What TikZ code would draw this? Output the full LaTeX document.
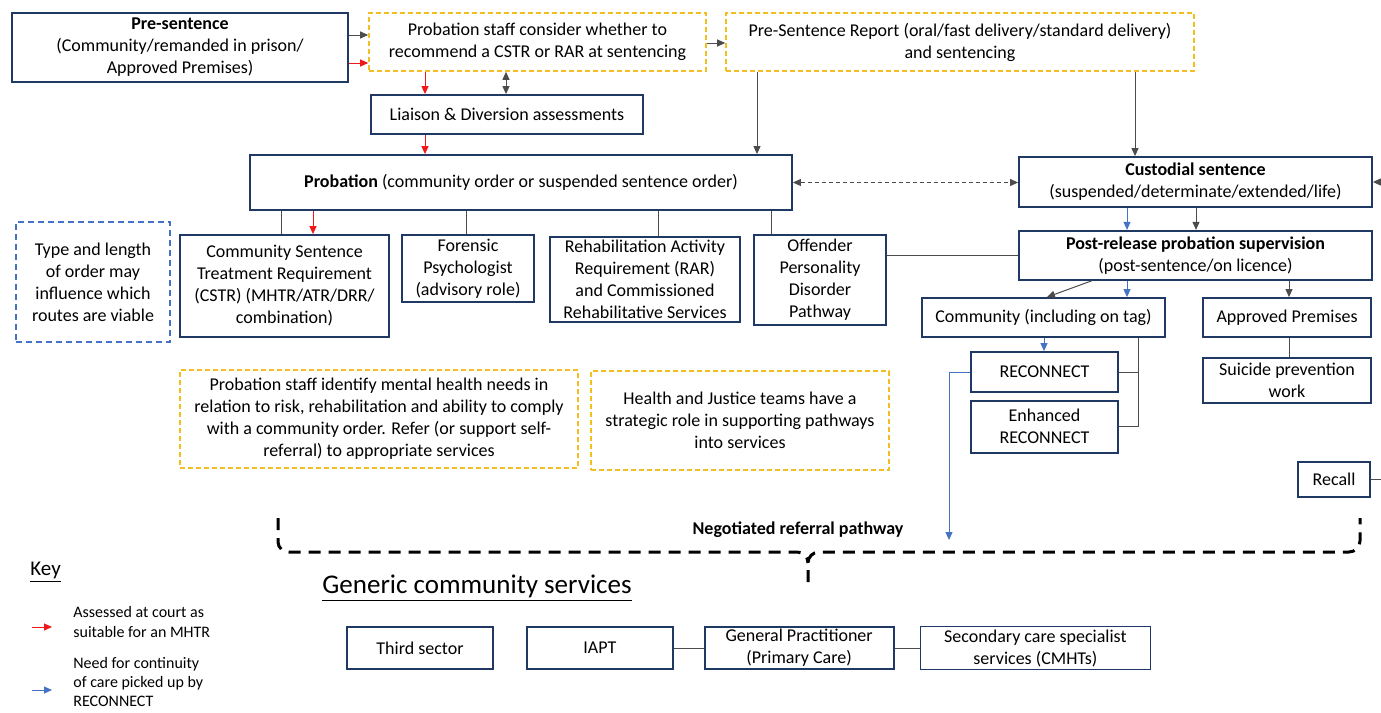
\documentclass[tikz,border=0pt]{standalone}
\usepackage{fontspec}
\setmainfont{Carlito}
\usetikzlibrary{arrows.meta, positioning}
\definecolor{navy}{HTML}{1F3864}
\definecolor{gold}{HTML}{F2BE22}
\definecolor{steel}{HTML}{4472C4}
\definecolor{alert}{HTML}{F01818}

\begin{document}
\begin{tikzpicture}[
      x=0.5pt, y=-0.5pt,
      box/.style={rectangle, draw=navy, line width=0.9pt, align=center,
        inner sep=0.5pt, font=\fontsize{9}{11}\selectfont},
      note/.style={rectangle, draw=gold, dashed, dash pattern=on 2.5pt off 1.5pt,
        line width=0.8pt, align=center, inner sep=0.5pt,
        font=\fontsize{9}{11}\selectfont},
      ln/.style={draw=black!70, line width=0.5pt},
      arr/.style={ln, -{Triangle[length=4pt, width=3.5pt]}},
      dbl/.style={ln, {Triangle[length=4pt, width=3.5pt]}-{Triangle[length=4pt, width=3.5pt]}},
      redarr/.style={arr, draw=alert, -{Triangle[length=4pt, width=3.5pt, fill=alert]}},
      bluearr/.style={arr, draw=steel, -{Triangle[length=4pt, width=3.5pt, fill=steel]}},
      bracket/.style={draw=black, line width=1.5pt, dash pattern=on 6pt off 4pt}
    ]
      \useasboundingbox (0,0) rectangle (1381,712);

      \node[box, minimum width=168pt, minimum height=34.5pt] (pre) at (180,47.5)
        {\textbf{Pre-sentence}\\(Community/remanded in prison/\\Approved Premises)};
      \node[note, minimum width=168.5pt, minimum height=29pt] (consider) at (537.5,42)
        {Probation staff consider whether to\\recommend a CSTR or RAR at sentencing};
      \node[note, minimum width=234pt, minimum height=29pt] (psr) at (960,42)
        {Pre-Sentence Report (oral/fast delivery/standard delivery)\\and sentencing};
      \node[box, minimum width=136pt, minimum height=19.5pt] (liaison) at (507,114.5)
        {Liaison \& Diversion assessments};
      \node[box, minimum width=271pt, minimum height=27.5pt] (prob) at (521,182.5)
        {\textbf{Probation} (community order or suspended sentence order)};
      \node[box, minimum width=176.5pt, minimum height=25pt] (cust) at (1195.5,182)
        {\textbf{Custodial sentence}\\(suspended/determinate/extended/life)};
      \node[box, minimum width=176.5pt, minimum height=24.5pt, below=11pt of cust] (post)
        {\textbf{Post-release probation supervision}\\(post-sentence/on licence)};

      \node[note, draw=steel, dash pattern=on 3pt off 2pt, minimum width=77pt,
        minimum height=60pt] (viable) at (93,282)
        {Type and length\\of order may\\influence which\\routes are viable};
      \node[box, minimum width=104.5pt, minimum height=51pt] (cstr) at (284.5,286)
        {Community Sentence\\Treatment Requirement\\(CSTR) (MHTR/ATR/DRR/\\combination)};
      \node[box, minimum width=66pt, minimum height=33.5pt] (forensic) at (468,268.5)
        {Forensic\\Psychologist\\(advisory role)};
      \node[box, minimum width=95pt, minimum height=42.5pt] (rar) at (645,279.5)
        {Rehabilitation Activity\\Requirement (RAR)\\and Commissioned\\Rehabilitative Services};
      \node[box, minimum width=66pt, minimum height=45pt] (opd) at (820,280)
        {Offender\\Personality\\Disorder\\Pathway};

      \node[box, minimum width=121.5pt, minimum height=19.5pt] (comm) at (1043.5,317.5)
        {Community (including on tag)};
      \node[box, minimum width=84pt, minimum height=19.5pt] (approved) at (1287,317.5)
        {Approved Premises};
      \node[box, minimum width=84pt, minimum height=22.5pt, below=9.5pt of approved] (suicide)
        {Suicide prevention\\work};
      \node[box, minimum width=73.5pt, minimum height=20pt] (reconn) at (1044.5,372)
        {RECONNECT};
      \node[box, minimum width=73.5pt, minimum height=26pt, below=3.5pt of reconn] (enhanced)
        {Enhanced\\RECONNECT};

      \node[note, minimum width=199pt, minimum height=49pt] (identify) at (379,419)
        {Probation staff identify mental health needs in\\relation to risk, rehabilitation and ability to comply\\with a community order. Refer (or support self-\\referral) to appropriate services};
      \node[note, minimum width=149pt, minimum height=49.5pt] (hj) at (740,420.5)
        {Health and Justice teams have a\\strategic role in supporting pathways\\into services};
      \node[box, minimum width=36pt, minimum height=17.5pt] (recall) at (1334,479.5) {Recall};

      \node[font=\fontsize{9}{11}\selectfont\bfseries] (nrp) at (798,530) {Negotiated referral pathway};
      \node[font=\fontsize{13.5}{15}\selectfont, anchor=west, inner sep=0pt] (generic) at (322,588)
        {\underline{Generic community services}};
      \node[box, minimum width=73pt, minimum height=21pt] (third) at (420,648) {Third sector};
      \node[box, minimum width=73pt, minimum height=21pt, right=16pt of third] (iapt) {IAPT};
      \node[box, minimum width=94.5pt, minimum height=21pt, right=15pt of iapt] (gp)
        {General Practitioner\\(Primary Care)};
      \node[box, minimum width=115pt, minimum height=21.5pt, right=12.5pt of gp] (secondary)
        {Secondary care specialist\\services (CMHTs)};

      \node[font=\fontsize{10.5}{12}\selectfont, anchor=west, inner sep=0pt] (key) at (30,572) {\underline{Key}};
      \node[font=\fontsize{8}{10}\selectfont, anchor=west, align=left, inner sep=0pt] (keyred) at (73,622)
        {Assessed at court as\\suitable for an MHTR};
      \node[font=\fontsize{8}{9.5}\selectfont, anchor=west, align=left, inner sep=0pt] (keyblue) at (73,682)
        {Need for continuity\\of care picked up by\\RECONNECT};

      \coordinate (npw) at (949,540);
      \coordinate (rback) at (1392,0);

      \draw[arr] (pre.east |- 0,35) -- (consider.west |- 0,35);
      \draw[redarr] (pre.east |- 0,63) -- (consider.west |- 0,63);
      \draw[arr] (consider.east |- 0,43) -- (psr.west |- 0,43);
      \draw[redarr] (consider.south -| 425,0) -- (liaison.north -| 425,0);
      \draw[dbl] (consider.south -| 506,0) -- (liaison.north -| 506,0);
      \draw[redarr] (liaison.south -| 425,0) -- (prob.north -| 425,0);
      \draw[arr] (psr.south -| 757,0) -- (prob.north -| 757,0);
      \draw[arr] (psr.south -| 1135,0) -- (cust.north -| 1135,0);
      \draw[dbl, dash pattern=on 2pt off 1.5pt] (prob.east) -- (prob.east -| cust.west);
      \draw[arr] (recall.east) -- (recall.east -| rback) -- (cust.east -| rback) -- (cust.east);

      \draw[bluearr] (cust.south -| 1127,0) -- (post.north -| 1127,0);
      \draw[arr] (cust.south -| 1196,0) -- (post.north -| 1196,0);
      \draw[arr] (post.south -| 1092,0) -- (comm.north -| 1047,0);
      \draw[bluearr] (post.south -| 1127,0) -- (comm.north -| 1127,0);
      \draw[arr] (post.south -| 1289,0) -- (approved.north -| 1289,0);
      \draw[ln] (approved.south -| 1289,0) -- (suicide.north -| 1289,0);
      \draw[ln] (post.west) -- (post.west -| opd.east);

      \draw[ln] (prob.south -| 281,0) -- (cstr.north -| 281,0);
      \draw[redarr] (prob.south -| 313,0) -- (cstr.north -| 313,0);
      \draw[ln] (prob.south -| 466,0) -- (forensic.north -| 466,0);
      \draw[ln] (prob.south -| 658,0) -- (rar.north -| 658,0);
      \draw[ln] (prob.south -| 771,0) -- (opd.north -| 771,0);

      \draw[bluearr] (comm.south -| 1044,0) -- (reconn.north -| 1044,0);
      \draw[ln] (comm.south -| 1138,0) |- (enhanced.east);
      \draw[ln] (reconn.east) -- (reconn.east -| 1138,0);
      \draw[bluearr] (reconn.west) -| (npw);

      \draw[bracket] (278,518) -- (278,542) to[out=-90, in=180] (289,552) -- (797,552)
        to[out=0, in=90] (808,563);
      \draw[bracket] (808,582) -- (808,563) to[out=90, in=180] (819,552) -- (1349,552)
        to[out=0, in=-90] (1360,541) -- (1360,518);

      \draw[ln] (iapt) -- (gp);
      \draw[ln] (gp) -- (secondary);

      \draw[redarr] ([xshift=-20.5pt]keyred.west |- 0,627) -- ([xshift=-10.5pt]keyred.west |- 0,627);
      \draw[bluearr] ([xshift=-20.5pt]keyblue.west |- 0,690) -- ([xshift=-10.5pt]keyblue.west |- 0,690);
    \end{tikzpicture}
\end{document}
